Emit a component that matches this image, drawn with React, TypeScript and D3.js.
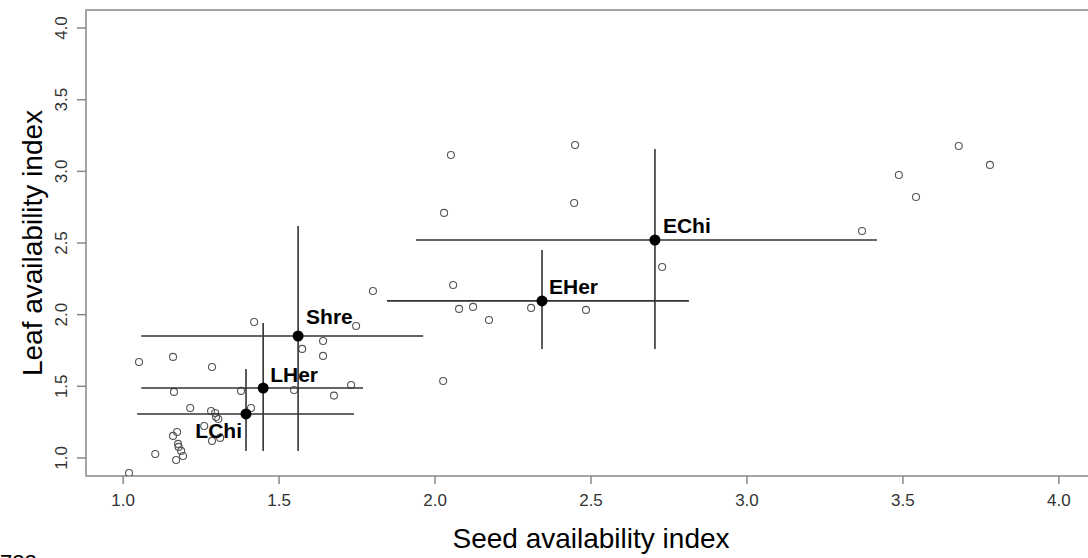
import React from 'react';
import * as d3 from 'd3';

// group means with their ranges
const groups = ['LChi', 'LHer', 'Shre', 'EHer', 'EChi'];
const groupSeed = [1.394, 1.449, 1.561, 2.343, 2.705];
const groupLeaf = [1.307, 1.488, 1.851, 2.096, 2.521];
const seedLow = [1.045, 1.058, 1.058, 1.846, 1.939];
const seedHigh = [1.740, 1.769, 1.962, 2.814, 3.417];
const leafLow = [1.049, 1.049, 1.049, 1.761, 1.761];
const leafHigh = [1.621, 1.942, 2.619, 2.452, 3.156];

// individual species
const speciesSeed = [
  2.051, 2.449, 2.029, 2.446, 2.728, 2.058, 2.077, 2.122, 2.173, 2.308, 2.484, 2.026,
  3.679, 3.779, 3.487, 3.542, 3.369,
  1.801, 1.420, 1.747, 1.641, 1.574, 1.641, 1.051, 1.160, 1.285, 1.163, 1.378, 1.548,
  1.731, 1.676, 1.215, 1.282, 1.295, 1.305, 1.298, 1.410, 1.260, 1.285, 1.311, 1.173,
  1.160, 1.176, 1.178, 1.186, 1.192, 1.170, 1.103, 1.019
];
const speciesLeaf = [
  3.114, 3.184, 2.710, 2.779, 2.333, 2.207, 2.040, 2.054, 1.963, 2.047, 2.033, 1.537,
  3.177, 3.045, 2.975, 2.821, 2.584,
  2.165, 1.949, 1.921, 1.816, 1.761, 1.712, 1.670, 1.705, 1.635, 1.461, 1.468, 1.474,
  1.509, 1.435, 1.349, 1.328, 1.314, 1.272, 1.286, 1.349, 1.223, 1.119, 1.140, 1.181,
  1.154, 1.098, 1.077, 1.049, 1.014, 0.986, 1.028, 0.895
];

const xTicks = [1.0, 1.5, 2.0, 2.5, 3.0, 3.5, 4.0];
const yTicks = [1.0, 1.5, 2.0, 2.5, 3.0, 3.5, 4.0];

// label placement around each group point (pixels)
const labelOffset: Record<string, [number, number, string]> = {
  LChi: [-4, 24, 'end'],
  LHer: [7, -6, 'start'],
  Shre: [8, -12, 'start'],
  EHer: [7, -7, 'start'],
  EChi: [8, -7, 'start'],
};

const W = 1088;
const H = 558;
const box = { left: 86, right: 1096, top: 10, bottom: 476 };

export default function App() {
  const x = d3.scaleLinear().domain([0.881, 4.119]).range([box.left, box.right]);
  const y = d3.scaleLinear().domain([0.874, 4.126]).range([box.bottom, box.top]);
  const font = 'Arial, "Liberation Sans", sans-serif';
  const axisCol = '#888';
  const barCol = '#333';

  return (
    <div style={{ position: 'absolute', left: 0, top: 0, width: W, height: H, overflow: 'hidden', background: '#fff' }}>
      <svg width={W} height={H} style={{ display: 'block' }} fontFamily={font}>
        <defs>
          <clipPath id="plotClip">
            <rect x={box.left} y={box.top} width={box.right - box.left} height={box.bottom - box.top} />
          </clipPath>
        </defs>

        {/* box */}
        <rect x={box.left} y={box.top} width={box.right - box.left} height={box.bottom - box.top}
          fill="none" stroke={axisCol} strokeWidth={1.5} />

        {/* x axis */}
        {xTicks.map(t => (
          <g key={'x' + t}>
            <line x1={x(t)} x2={x(t)} y1={box.bottom} y2={box.bottom + 8} stroke={axisCol} strokeWidth={1.5} />
            <text x={x(t)} y={box.bottom + 30} textAnchor="middle" fontSize={17} fill="#333">{t.toFixed(1)}</text>
          </g>
        ))}
        <text x={(box.left + box.right) / 2} y={548} textAnchor="middle" fontSize={28} fill="#000">
          Seed availability index
        </text>

        {/* y axis */}
        {yTicks.map(t => (
          <g key={'y' + t}>
            <line x1={box.left - 9} x2={box.left} y1={y(t)} y2={y(t)} stroke={axisCol} strokeWidth={1.5} />
            <text transform={`translate(${box.left - 19},${y(t)}) rotate(-90)`} textAnchor="middle"
              fontSize={17} fill="#333">{t.toFixed(1)}</text>
          </g>
        ))}
        <text transform={`translate(42,${(box.top + box.bottom) / 2}) rotate(-90)`} textAnchor="middle"
          fontSize={28} fill="#000">Leaf availability index</text>

        <g clipPath="url(#plotClip)">
          {/* species */}
          {speciesSeed.map((s, i) => (
            <circle key={'s' + i} cx={x(s)} cy={y(speciesLeaf[i])} r={3.5}
              fill="none" stroke="#555" strokeWidth={1.1} />
          ))}

          {/* ranges */}
          {groups.map((g, i) => (
            <g key={'r' + g} stroke={barCol} strokeWidth={1.6}>
              <line x1={x(seedLow[i])} x2={x(seedHigh[i])} y1={y(groupLeaf[i])} y2={y(groupLeaf[i])} />
              <line x1={x(groupSeed[i])} x2={x(groupSeed[i])} y1={y(leafLow[i])} y2={y(leafHigh[i])} />
            </g>
          ))}

          {/* group means */}
          {groups.map((g, i) => (
            <circle key={'m' + g} cx={x(groupSeed[i])} cy={y(groupLeaf[i])} r={5.5} fill="#000" />
          ))}
        </g>

        {groups.map((g, i) => {
          const [dx, dy, anchor] = labelOffset[g];
          return (
            <text key={'l' + g} x={x(groupSeed[i]) + dx} y={y(groupLeaf[i]) + dy} textAnchor={anchor}
              fontSize={21} fontWeight="bold" fill="#000">{g}</text>
          );
        })}

        <text x={0} y={570} fontSize={22} fill="#000">722</text>
      </svg>
    </div>
  );
}
